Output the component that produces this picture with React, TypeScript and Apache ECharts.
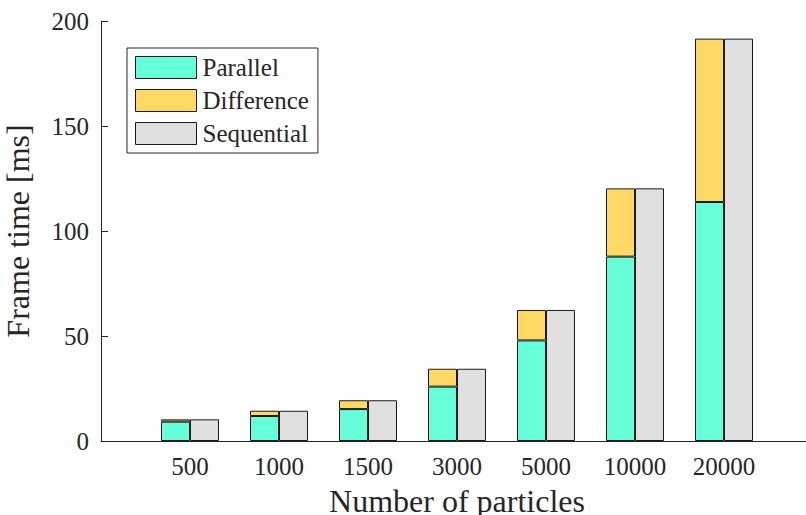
import React, { useEffect, useRef } from "react";
import * as echarts from "echarts";

const categories = ["500", "1000", "1500", "3000", "5000", "10000", "20000"];
const parallel = [9.2, 11.9, 15.2, 25.9, 47.9, 87.8, 113.8];
const difference = [1.1, 2.5, 4.2, 8.5, 14.5, 32.5, 77.8];
const sequential = [10.3, 14.4, 19.4, 34.4, 62.4, 120.3, 191.6];
const yTicks = [0, 50, 100, 150, 200];

const FONT = "'Liberation Serif', 'Times New Roman', serif";
const INK = "#262626";
const EDGE = "#1a1a1a";

export default function App() {
  const ref = useRef<HTMLDivElement>(null);
  useEffect(() => {
    if (!ref.current) return;
    const chart = echarts.init(ref.current, undefined, { renderer: "svg" });
    const pad = (arr: number[]) => [null, ...arr, null];
    const axisCats = ["", ...categories, ""];
    chart.setOption({
      animation: false,
      backgroundColor: "#ffffff",
      textStyle: { fontFamily: FONT, color: INK },
      grid: { left: 101, top: 21, height: 420, width: 712, outerBoundsMode: "none", containLabel: false },
      legend: {
        left: 127,
        top: 48,
        orient: "vertical",
        itemWidth: 61,
        itemHeight: 22,
        itemGap: 8,
        padding: [7, 9, 7, 8],
        borderColor: INK,
        borderWidth: 1,
        backgroundColor: "#ffffff",
        icon: "rect",
        itemStyle: { borderColor: EDGE, borderWidth: 1 },
        textStyle: { fontFamily: FONT, fontSize: 25, lineHeight: 18, color: INK, padding: [0, 0, 4, 1] },
        data: ["Parallel", "Difference", "Sequential"],
      },
      xAxis: {
        type: "category",
        data: axisCats,
        boundaryGap: false,
        name: "Number of particles",
        nameLocation: "middle",
        nameGap: 44,
        nameTextStyle: { fontFamily: FONT, fontSize: 32, color: INK },
        axisLine: { lineStyle: { color: INK, width: 1 } },
        axisTick: { show: false },
        axisLabel: {
          interval: 0,
          fontFamily: FONT,
          fontSize: 25,
          color: INK,
          margin: 13,
        },
        splitLine: { show: false },
      },
      yAxis: {
        type: "value",
        min: yTicks[0],
        max: yTicks[yTicks.length - 1],
        interval: 50,
        name: "Frame time [ms]",
        nameLocation: "middle",
        nameGap: 67,
        nameTextStyle: { fontFamily: FONT, fontSize: 32, color: INK },
        axisLine: { show: true, lineStyle: { color: INK, width: 1 } },
        axisTick: { show: true, inside: true, length: 7, lineStyle: { color: INK } },
        axisLabel: { fontFamily: FONT, fontSize: 25, color: INK, margin: 12 },
        splitLine: { show: false },
      },
      series: [
        {
          name: "Parallel",
          type: "bar",
          stack: "par",
          barWidth: 29,
          barGap: "0%",
          data: pad(parallel),
          itemStyle: { color: "#66ffda", borderColor: EDGE, borderWidth: 1 },
        },
        {
          name: "Difference",
          type: "bar",
          stack: "par",
          barWidth: 29,
          barGap: "0%",
          data: pad(difference),
          itemStyle: { color: "#ffd966", borderColor: EDGE, borderWidth: 1 },
        },
        {
          name: "Sequential",
          type: "bar",
          barWidth: 29,
          barGap: "0%",
          data: pad(sequential),
          itemStyle: { color: "#e0e0e0", borderColor: EDGE, borderWidth: 1 },
        },
      ],
    });
    return () => chart.dispose();
  }, []);
  return <div ref={ref} style={{ width: 806, height: 515, position: "absolute", left: 0, top: 0 }} />;
}
